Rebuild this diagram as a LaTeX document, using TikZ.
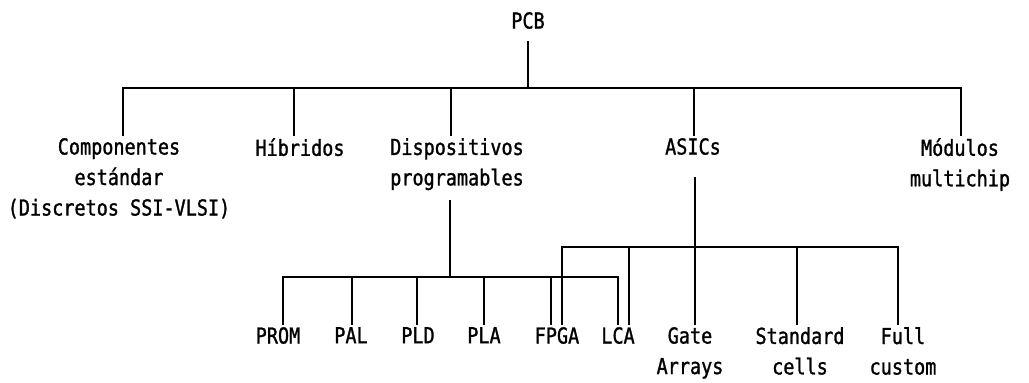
\documentclass[tikz,border=0pt]{standalone}
\usepackage{fontspec}
\newfontfamily\dotf[FakeStretch=0.84,FakeBold=1.2]{DejaVu Sans Mono}
\begin{document}
\begin{tikzpicture}[x=1pt,y=-1pt,
  lbl/.style={font=\dotf\fontsize{22}{30.5}\selectfont, anchor=north, align=center,
    inner xsep=0pt, inner ysep=3pt},
  wire/.style={line width=1.5pt, line cap=rect}]
\useasboundingbox (0,0) rectangle (1029,383);
% level 0
\node[lbl] (pcb) at (528,9) {PCB};
% level 1
\node[lbl] (comp) at (119,135) {Componentes\\estándar\\(Discretos SSI-VLSI)};
\node[lbl] (hib) at (300,135) {Híbridos};
\node[lbl] (dis) at (457,135) {Dispositivos\\programables};
\node[lbl] (asic) at (693,135) {ASICs};
\node[lbl] (mod) at (960,135) {Módulos\\multichip};
% level 2
\node[lbl] (prom) at (278,324) {PROM};
\node[lbl] (pal) at (351,324) {PAL};
\node[lbl] (pld) at (418,324) {PLD};
\node[lbl] (pla) at (484,324) {PLA};
\node[lbl] (fpga) at (557,324) {FPGA};
\node[lbl] (lca) at (618,324) {LCA};
\node[lbl] (gate) at (690,324) {Gate\\Arrays};
\node[lbl] (std) at (800,324) {Standard\\cells};
\node[lbl] (full) at (903,324) {Full\\custom};
% main bus
\coordinate (m0) at (528,88);
\coordinate (m1) at (123,88);
\coordinate (m2) at (294,88);
\coordinate (m3) at (451,88);
\coordinate (m4) at (694,88);
\coordinate (m5) at (961,88);
\draw[wire] ([yshift=-10pt]pcb.south) -- (m0);
\draw[wire] (m1) -- (m5);
\foreach \c/\n in {m1/comp,m2/hib,m3/dis,m4/asic,m5/mod}
  \draw[wire] (\c) -- (\c |- \n.north);
% programmable bus
\coordinate (p0) at (450,277);
\coordinate (p1) at (283,277);
\coordinate (p2) at (352,277);
\coordinate (p3) at (417,277);
\coordinate (p4) at (484,277);
\coordinate (p5) at (551,277);
\coordinate (p6) at (618,277);
\draw[wire] ([yshift=-7pt]dis.south -| p0) -- (p0);
\draw[wire] (p1) -- (p6);
\foreach \c/\n in {p1/prom,p2/pal,p3/pld,p4/pla,p5/fpga,p6/lca}
  \draw[wire] (\c) -- (\c |- \n.north);
% ASICs bus
\coordinate (a0) at (695,247);
\coordinate (a1) at (562,247);
\coordinate (a2) at (629,247);
\coordinate (a3) at (695,247);
\coordinate (a4) at (797,247);
\coordinate (a5) at (898,247);
\draw[wire] ([yshift=-20pt]asic.south -| a0) -- (a0);
\draw[wire] (a1) -- (a5);
\foreach \c/\n in {a1/fpga,a2/lca,a3/gate,a4/std,a5/full}
  \draw[wire] (\c) -- (\c |- \n.north);
\end{tikzpicture}
\end{document}
